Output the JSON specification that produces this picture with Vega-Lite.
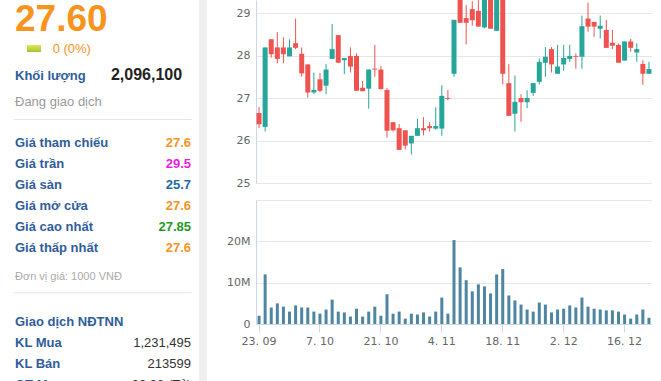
{
  "$schema": "https://vega.github.io/schema/vega-lite/v6.json",
  "padding": {"left": 13, "top": 0, "right": 0, "bottom": 0},
  "background": "white",
  "bounds": "flush",
  "spacing": 65,
  "config": {
    "view": {"stroke": null},
    "axis": {"labelFont": "DejaVu Sans", "labelFontSize": 11, "labelColor": "#666666", "gridColor": "#e6e6e6", "domainColor": "#ccd6eb", "tickColor": "#ccd6eb", "title": null}
  },
  "datasets": {
    "panel": [
      {"key": "price", "grp": "big", "value": "27.60"},
      {"key": "chg", "grp": "chg", "value": "0 (0%)"},
      {"key": "vol", "grp": "vol", "label": "Khối lượng", "value": "2,096,100"},
      {"key": "status", "grp": "status", "label": "Đang giao dịch"},
      {"key": "sep1", "grp": "sep"},
      {"key": "ref", "grp": "px", "label": "Giá tham chiếu", "value": "27.6", "tone": "ref"},
      {"key": "ceil", "grp": "px", "label": "Giá trần", "value": "29.5", "tone": "ceil"},
      {"key": "floor", "grp": "px", "label": "Giá sàn", "value": "25.7", "tone": "floor"},
      {"key": "open", "grp": "px", "label": "Giá mở cửa", "value": "27.6", "tone": "ref"},
      {"key": "high", "grp": "px", "label": "Giá cao nhất", "value": "27.85", "tone": "up"},
      {"key": "low", "grp": "px", "label": "Giá thấp nhất", "value": "27.6", "tone": "ref"},
      {"key": "unit", "grp": "unit", "label": "Đơn vị giá: 1000 VNĐ"},
      {"key": "sep2", "grp": "sep"},
      {"key": "nnhead", "grp": "nnhead", "label": "Giao dịch NĐTNN"},
      {"key": "buy", "grp": "nn", "label": "KL Mua", "value": "1,231,495"},
      {"key": "sell", "grp": "nn", "label": "KL Bán", "value": "213599"},
      {"key": "gtm", "grp": "nn", "label": "GT Mua", "value": "33.98 (Tỷ)"}
    ],
    "q": [
      {"d": "23. 09", "o": 26.65, "h": 26.79, "l": 26.29, "c": 26.38, "v": 2000000},
      {"d": "24. 09", "o": 26.32, "h": 28.19, "l": 26.21, "c": 28.19, "v": 12000000},
      {"d": "25. 09", "o": 28.38, "h": 28.38, "l": 27.95, "c": 28.03, "v": 4000000},
      {"d": "26. 09", "o": 28.19, "h": 28.55, "l": 27.82, "c": 27.92, "v": 5000000},
      {"d": "27. 09", "o": 28.19, "h": 28.43, "l": 27.82, "c": 28.03, "v": 4200000},
      {"d": "30. 09", "o": 27.98, "h": 28.38, "l": 27.98, "c": 28.19, "v": 3000000},
      {"d": "1. 10", "o": 28.29, "h": 28.87, "l": 28.15, "c": 28.18, "v": 4500000},
      {"d": "2. 10", "o": 28.04, "h": 28.19, "l": 27.50, "c": 27.58, "v": 4000000},
      {"d": "3. 10", "o": 27.79, "h": 27.79, "l": 27.01, "c": 27.13, "v": 4000000},
      {"d": "4. 10", "o": 27.13, "h": 27.60, "l": 27.09, "c": 27.19, "v": 3000000},
      {"d": "7. 10", "o": 27.44, "h": 27.59, "l": 27.14, "c": 27.17, "v": 2500000},
      {"d": "8. 10", "o": 27.29, "h": 27.80, "l": 27.09, "c": 27.67, "v": 3500000},
      {"d": "9. 10", "o": 27.92, "h": 28.74, "l": 27.92, "c": 28.15, "v": 5900000},
      {"d": "10. 10", "o": 28.48, "h": 28.48, "l": 27.82, "c": 27.83, "v": 3000000},
      {"d": "11. 10", "o": 27.89, "h": 27.94, "l": 27.56, "c": 27.94, "v": 2800000},
      {"d": "14. 10", "o": 27.99, "h": 28.19, "l": 27.60, "c": 27.74, "v": 1800000},
      {"d": "15. 10", "o": 27.99, "h": 28.05, "l": 27.17, "c": 27.17, "v": 3700000},
      {"d": "16. 10", "o": 27.24, "h": 27.40, "l": 27.16, "c": 27.16, "v": 1800000},
      {"d": "17. 10", "o": 27.22, "h": 27.67, "l": 26.75, "c": 27.67, "v": 3000000},
      {"d": "18. 10", "o": 27.69, "h": 28.25, "l": 27.50, "c": 27.67, "v": 4200000},
      {"d": "21. 10", "o": 27.67, "h": 27.75, "l": 27.20, "c": 27.21, "v": 2000000},
      {"d": "22. 10", "o": 27.19, "h": 27.23, "l": 26.07, "c": 26.23, "v": 7200000},
      {"d": "23. 10", "o": 26.43, "h": 26.43, "l": 26.21, "c": 26.24, "v": 2500000},
      {"d": "24. 10", "o": 26.29, "h": 26.39, "l": 25.78, "c": 25.78, "v": 3000000},
      {"d": "25. 10", "o": 26.24, "h": 26.24, "l": 25.79, "c": 25.88, "v": 1300000},
      {"d": "28. 10", "o": 25.93, "h": 26.11, "l": 25.67, "c": 26.11, "v": 2500000},
      {"d": "29. 10", "o": 26.11, "h": 26.51, "l": 26.11, "c": 26.29, "v": 2300000},
      {"d": "30. 10", "o": 26.29, "h": 26.55, "l": 26.12, "c": 26.24, "v": 2800000},
      {"d": "31. 10", "o": 26.34, "h": 26.43, "l": 26.21, "c": 26.29, "v": 1800000},
      {"d": "1. 11", "o": 26.28, "h": 26.78, "l": 26.25, "c": 26.34, "v": 3000000},
      {"d": "4. 11", "o": 26.28, "h": 27.30, "l": 26.11, "c": 27.05, "v": 6400000},
      {"d": "5. 11", "o": 27.00, "h": 27.19, "l": 26.95, "c": 26.98, "v": 2500000},
      {"d": "6. 11", "o": 27.57, "h": 28.84, "l": 27.50, "c": 28.84, "v": 20300000},
      {"d": "7. 11", "o": 29.60, "h": 29.70, "l": 28.77, "c": 28.77, "v": 13700000},
      {"d": "8. 11", "o": 28.88, "h": 29.19, "l": 28.26, "c": 28.77, "v": 10600000},
      {"d": "11. 11", "o": 29.09, "h": 29.28, "l": 28.70, "c": 28.83, "v": 7900000},
      {"d": "12. 11", "o": 29.05, "h": 29.35, "l": 28.68, "c": 28.68, "v": 9600000},
      {"d": "13. 11", "o": 28.66, "h": 29.70, "l": 28.64, "c": 29.60, "v": 9100000},
      {"d": "14. 11", "o": 29.80, "h": 29.90, "l": 28.63, "c": 28.63, "v": 7400000},
      {"d": "15. 11", "o": 28.58, "h": 29.80, "l": 28.58, "c": 29.70, "v": 12000000},
      {"d": "18. 11", "o": 29.60, "h": 29.70, "l": 27.32, "c": 27.57, "v": 13300000},
      {"d": "19. 11", "o": 27.35, "h": 27.80, "l": 26.58, "c": 26.58, "v": 6900000},
      {"d": "20. 11", "o": 26.63, "h": 27.53, "l": 26.21, "c": 26.91, "v": 5700000},
      {"d": "21. 11", "o": 27.00, "h": 27.09, "l": 26.44, "c": 26.90, "v": 4700000},
      {"d": "22. 11", "o": 26.90, "h": 27.18, "l": 26.76, "c": 27.00, "v": 3500000},
      {"d": "25. 11", "o": 27.12, "h": 27.35, "l": 27.05, "c": 27.35, "v": 3000000},
      {"d": "26. 11", "o": 27.38, "h": 27.93, "l": 27.32, "c": 27.85, "v": 5200000},
      {"d": "27. 11", "o": 27.83, "h": 28.20, "l": 27.50, "c": 27.97, "v": 4700000},
      {"d": "28. 11", "o": 28.15, "h": 28.20, "l": 27.60, "c": 27.79, "v": 2800000},
      {"d": "29. 11", "o": 27.57, "h": 28.25, "l": 27.57, "c": 27.74, "v": 3500000},
      {"d": "2. 12", "o": 27.79, "h": 28.25, "l": 27.64, "c": 27.94, "v": 3700000},
      {"d": "3. 12", "o": 27.92, "h": 28.25, "l": 27.85, "c": 27.99, "v": 4500000},
      {"d": "4. 12", "o": 27.99, "h": 28.05, "l": 27.69, "c": 27.97, "v": 4000000},
      {"d": "5. 12", "o": 27.97, "h": 28.94, "l": 27.69, "c": 28.69, "v": 6400000},
      {"d": "6. 12", "o": 28.87, "h": 29.24, "l": 28.56, "c": 28.68, "v": 4200000},
      {"d": "9. 12", "o": 28.79, "h": 28.79, "l": 28.44, "c": 28.68, "v": 3700000},
      {"d": "10. 12", "o": 28.63, "h": 28.94, "l": 28.40, "c": 28.70, "v": 3500000},
      {"d": "11. 12", "o": 28.60, "h": 28.84, "l": 28.18, "c": 28.18, "v": 3300000},
      {"d": "12. 12", "o": 28.30, "h": 28.60, "l": 28.15, "c": 28.23, "v": 3300000},
      {"d": "13. 12", "o": 28.25, "h": 28.28, "l": 27.83, "c": 27.83, "v": 3000000},
      {"d": "16. 12", "o": 27.88, "h": 28.33, "l": 27.88, "c": 28.33, "v": 2300000},
      {"d": "17. 12", "o": 28.33, "h": 28.39, "l": 28.09, "c": 28.18, "v": 1300000},
      {"d": "18. 12", "o": 28.07, "h": 28.29, "l": 27.85, "c": 28.15, "v": 2300000},
      {"d": "19. 12", "o": 27.80, "h": 27.89, "l": 27.31, "c": 27.57, "v": 3500000},
      {"d": "20. 12", "o": 27.57, "h": 27.85, "l": 27.57, "c": 27.68, "v": 1500000}
    ]
  },
  "hconcat": [
    {
      "width": 176,
      "height": 381,
      "data": {"name": "panel"},
      "layer": [
        {
          "transform": [{"filter": "datum.key == 'price'"}],
          "mark": {"type": "rect", "color": "#efefef"},
          "encoding": {
            "x": {"datum": 104.5, "type": "quantitative", "scale": {"domain": [0, 100], "nice": false, "zero": false}, "axis": null},
            "x2": {"datum": 109}
          }
        },
        {
          "transform": [{"filter": "datum.key == 'sep1'"}],
          "mark": {"type": "rule", "color": "#e6e6e6", "strokeWidth": 1},
          "encoding": {
            "x": {"datum": -0.5, "type": "quantitative", "axis": null},
            "x2": {"datum": 100.5},
            "y": {"field": "key", "type": "nominal", "axis": null, "scale": {"type": "band", "domain": ["price", "gap1", "chg", "vol", "status", "sep1", "ref", "ceil", "floor", "open", "high", "low", "unit", "sep2", "gap2", "nnhead", "buy", "sell", "gtm"], "range": [4, 403], "paddingInner": 0, "paddingOuter": 0}}
          }
        },
        {
          "transform": [{"filter": "datum.key == 'sep2'"}],
          "mark": {"type": "rule", "color": "#e6e6e6", "strokeWidth": 1},
          "encoding": {
            "x": {"datum": -0.5, "type": "quantitative", "axis": null},
            "x2": {"datum": 100.5},
            "y": {"field": "key", "type": "nominal", "axis": null, "bandPosition": 0.75}
          }
        },
        {
          "transform": [{"filter": "datum.key == 'price'"}],
          "mark": {"type": "text", "font": "Liberation Sans", "fontSize": 37, "fontWeight": "bold", "color": "#f7941d", "align": "left", "baseline": "alphabetic", "dy": 16.5},
          "encoding": {
            "x": {"datum": 0, "type": "quantitative", "axis": null},
            "y": {"field": "key", "type": "nominal", "axis": null},
            "text": {"field": "value"}
          }
        },
        {
          "transform": [{"filter": "datum.key == 'chg'"}],
          "mark": {"type": "point", "shape": "M-1,-0.5L1,-0.5L1,0.5L-1,0.5Z", "size": 196, "filled": true, "opacity": 1, "strokeWidth": 0, "fill": {"gradient": "linear", "x1": 0, "y1": 0, "x2": 0, "y2": 1, "stops": [{"offset": 0, "color": "#e2e65a"}, {"offset": 1, "color": "#a6c330"}]}},
          "encoding": {
            "x": {"datum": 10.8, "type": "quantitative", "axis": null},
            "y": {"field": "key", "type": "nominal", "axis": null, "bandPosition": 0.12}
          }
        },
        {
          "transform": [{"filter": "datum.key == 'chg'"}],
          "mark": {"type": "text", "font": "Liberation Sans", "fontSize": 13, "color": "#f7941d", "align": "left", "baseline": "alphabetic", "dy": -3.5},
          "encoding": {
            "x": {"datum": 21.4, "type": "quantitative", "axis": null},
            "y": {"field": "key", "type": "nominal", "axis": null},
            "text": {"field": "value"}
          }
        },
        {
          "transform": [{"filter": "datum.key == 'vol'"}],
          "mark": {"type": "text", "font": "Liberation Sans", "fontSize": 13, "fontWeight": "bold", "color": "#2f5d9b", "align": "left", "baseline": "alphabetic", "dy": 2},
          "encoding": {
            "x": {"datum": 0, "type": "quantitative", "axis": null},
            "y": {"field": "key", "type": "nominal", "axis": null},
            "text": {"field": "label"}
          }
        },
        {
          "transform": [{"filter": "datum.key == 'vol'"}],
          "mark": {"type": "text", "font": "Liberation Sans", "fontSize": 16, "fontWeight": "bold", "color": "#222222", "align": "left", "baseline": "alphabetic", "dy": 2},
          "encoding": {
            "x": {"datum": 54.5, "type": "quantitative", "axis": null},
            "y": {"field": "key", "type": "nominal", "axis": null},
            "text": {"field": "value"}
          }
        },
        {
          "transform": [{"filter": "datum.key == 'status'"}],
          "mark": {"type": "text", "font": "Liberation Sans", "fontSize": 13, "color": "#999999", "align": "left", "baseline": "alphabetic", "dy": 7.5},
          "encoding": {
            "x": {"datum": 0, "type": "quantitative", "axis": null},
            "y": {"field": "key", "type": "nominal", "axis": null},
            "text": {"field": "label"}
          }
        },
        {
          "transform": [{"filter": "datum.grp == 'px'"}],
          "mark": {"type": "text", "font": "Liberation Sans", "fontSize": 13, "fontWeight": "bold", "color": "#2f5d9b", "align": "left", "baseline": "alphabetic", "dy": 6.2},
          "encoding": {
            "x": {"datum": 0, "type": "quantitative", "axis": null},
            "y": {"field": "key", "type": "nominal", "axis": null},
            "text": {"field": "label"}
          }
        },
        {
          "transform": [{"filter": "datum.grp == 'px'"}],
          "mark": {"type": "text", "font": "Liberation Sans", "fontSize": 13, "fontWeight": "bold", "align": "right", "baseline": "alphabetic", "dy": 6.2},
          "encoding": {
            "x": {"datum": 100, "type": "quantitative", "axis": null},
            "y": {"field": "key", "type": "nominal", "axis": null},
            "text": {"field": "value"},
            "color": {"field": "tone", "type": "nominal", "legend": null, "scale": {"domain": ["ref", "ceil", "floor", "up"], "range": ["#f7941d", "#e31ee3", "#1d6b9f", "#1e9a1e"]}}
          }
        },
        {
          "transform": [{"filter": "datum.key == 'unit'"}],
          "mark": {"type": "text", "font": "Liberation Sans", "fontSize": 11, "color": "#aaaaaa", "align": "left", "baseline": "alphabetic", "dy": 13.5},
          "encoding": {
            "x": {"datum": 0, "type": "quantitative", "axis": null},
            "y": {"field": "key", "type": "nominal", "axis": null},
            "text": {"field": "label"}
          }
        },
        {
          "transform": [{"filter": "datum.key == 'nnhead'"}],
          "mark": {"type": "text", "font": "Liberation Sans", "fontSize": 13, "fontWeight": "bold", "color": "#2f5d9b", "align": "left", "baseline": "alphabetic", "dy": -3.5},
          "encoding": {
            "x": {"datum": 0, "type": "quantitative", "axis": null},
            "y": {"field": "key", "type": "nominal", "axis": null},
            "text": {"field": "label"}
          }
        },
        {
          "transform": [{"filter": "datum.grp == 'nn'"}],
          "mark": {"type": "text", "font": "Liberation Sans", "fontSize": 13, "fontWeight": "bold", "color": "#2f5d9b", "align": "left", "baseline": "alphabetic", "dy": -4, "clip": true},
          "encoding": {
            "x": {"datum": 0, "type": "quantitative", "axis": null},
            "y": {"field": "key", "type": "nominal", "axis": null},
            "text": {"field": "label"}
          }
        },
        {
          "transform": [{"filter": "datum.grp == 'nn'"}],
          "mark": {"type": "text", "font": "Liberation Sans", "fontSize": 13, "color": "#333333", "align": "right", "baseline": "alphabetic", "dy": -4, "clip": true},
          "encoding": {
            "x": {"datum": 100, "type": "quantitative", "axis": null},
            "y": {"field": "key", "type": "nominal", "axis": null},
            "text": {"field": "value"}
          }
        }
      ]
    },
    {
      "bounds": "flush",
      "spacing": 17,
      "vconcat": [
        {
          "width": 396,
          "height": 183,
          "data": {"name": "q"},
          "encoding": {
            "x": {"field": "d", "type": "ordinal", "sort": null, "scale": {"paddingInner": 0, "paddingOuter": 0}, "axis": null},
            "color": {"condition": {"test": "datum.c < datum.o", "value": "#ef5350"}, "value": "#26a69a"}
          },
          "layer": [
            {
              "mark": {"type": "rule", "clip": true, "strokeWidth": 1},
              "encoding": {
                "y": {"field": "l", "type": "quantitative", "scale": {"domain": [25, 29.306], "nice": false, "zero": false}, "axis": {"values": [25, 26, 27, 28, 29], "ticks": false, "labelPadding": 6, "grid": true, "domain": true}},
                "y2": {"field": "h"}
              }
            },
            {
              "mark": {"type": "bar", "clip": true, "width": 5},
              "encoding": {
                "y": {"field": "o", "type": "quantitative"},
                "y2": {"field": "c"}
              }
            }
          ]
        },
        {
          "width": 396,
          "height": 124,
          "data": {"name": "q"},
          "mark": {"type": "bar", "width": 3, "color": "#4e86a1"},
          "encoding": {
            "x": {"field": "d", "type": "ordinal", "sort": null, "scale": {"paddingInner": 0, "paddingOuter": 0}, "axis": {"values": ["23. 09", "7. 10", "21. 10", "4. 11", "18. 11", "2. 12", "16. 12"], "labelAngle": 0, "tickSize": 8, "labelPadding": 3, "grid": false, "labelOverlap": false}},
            "y": {"field": "v", "type": "quantitative", "scale": {"domain": [0, 30000000], "nice": false}, "axis": {"values": [0, 10000000, 20000000, 30000000], "labelExpr": "datum.value == 0 ? '0' : (datum.value >= 30000000 ? '' : format(datum.value / 1000000, 'd') + 'M')", "ticks": false, "labelPadding": 6, "grid": true, "domain": true}}
          }
        }
      ]
    }
  ]
}
